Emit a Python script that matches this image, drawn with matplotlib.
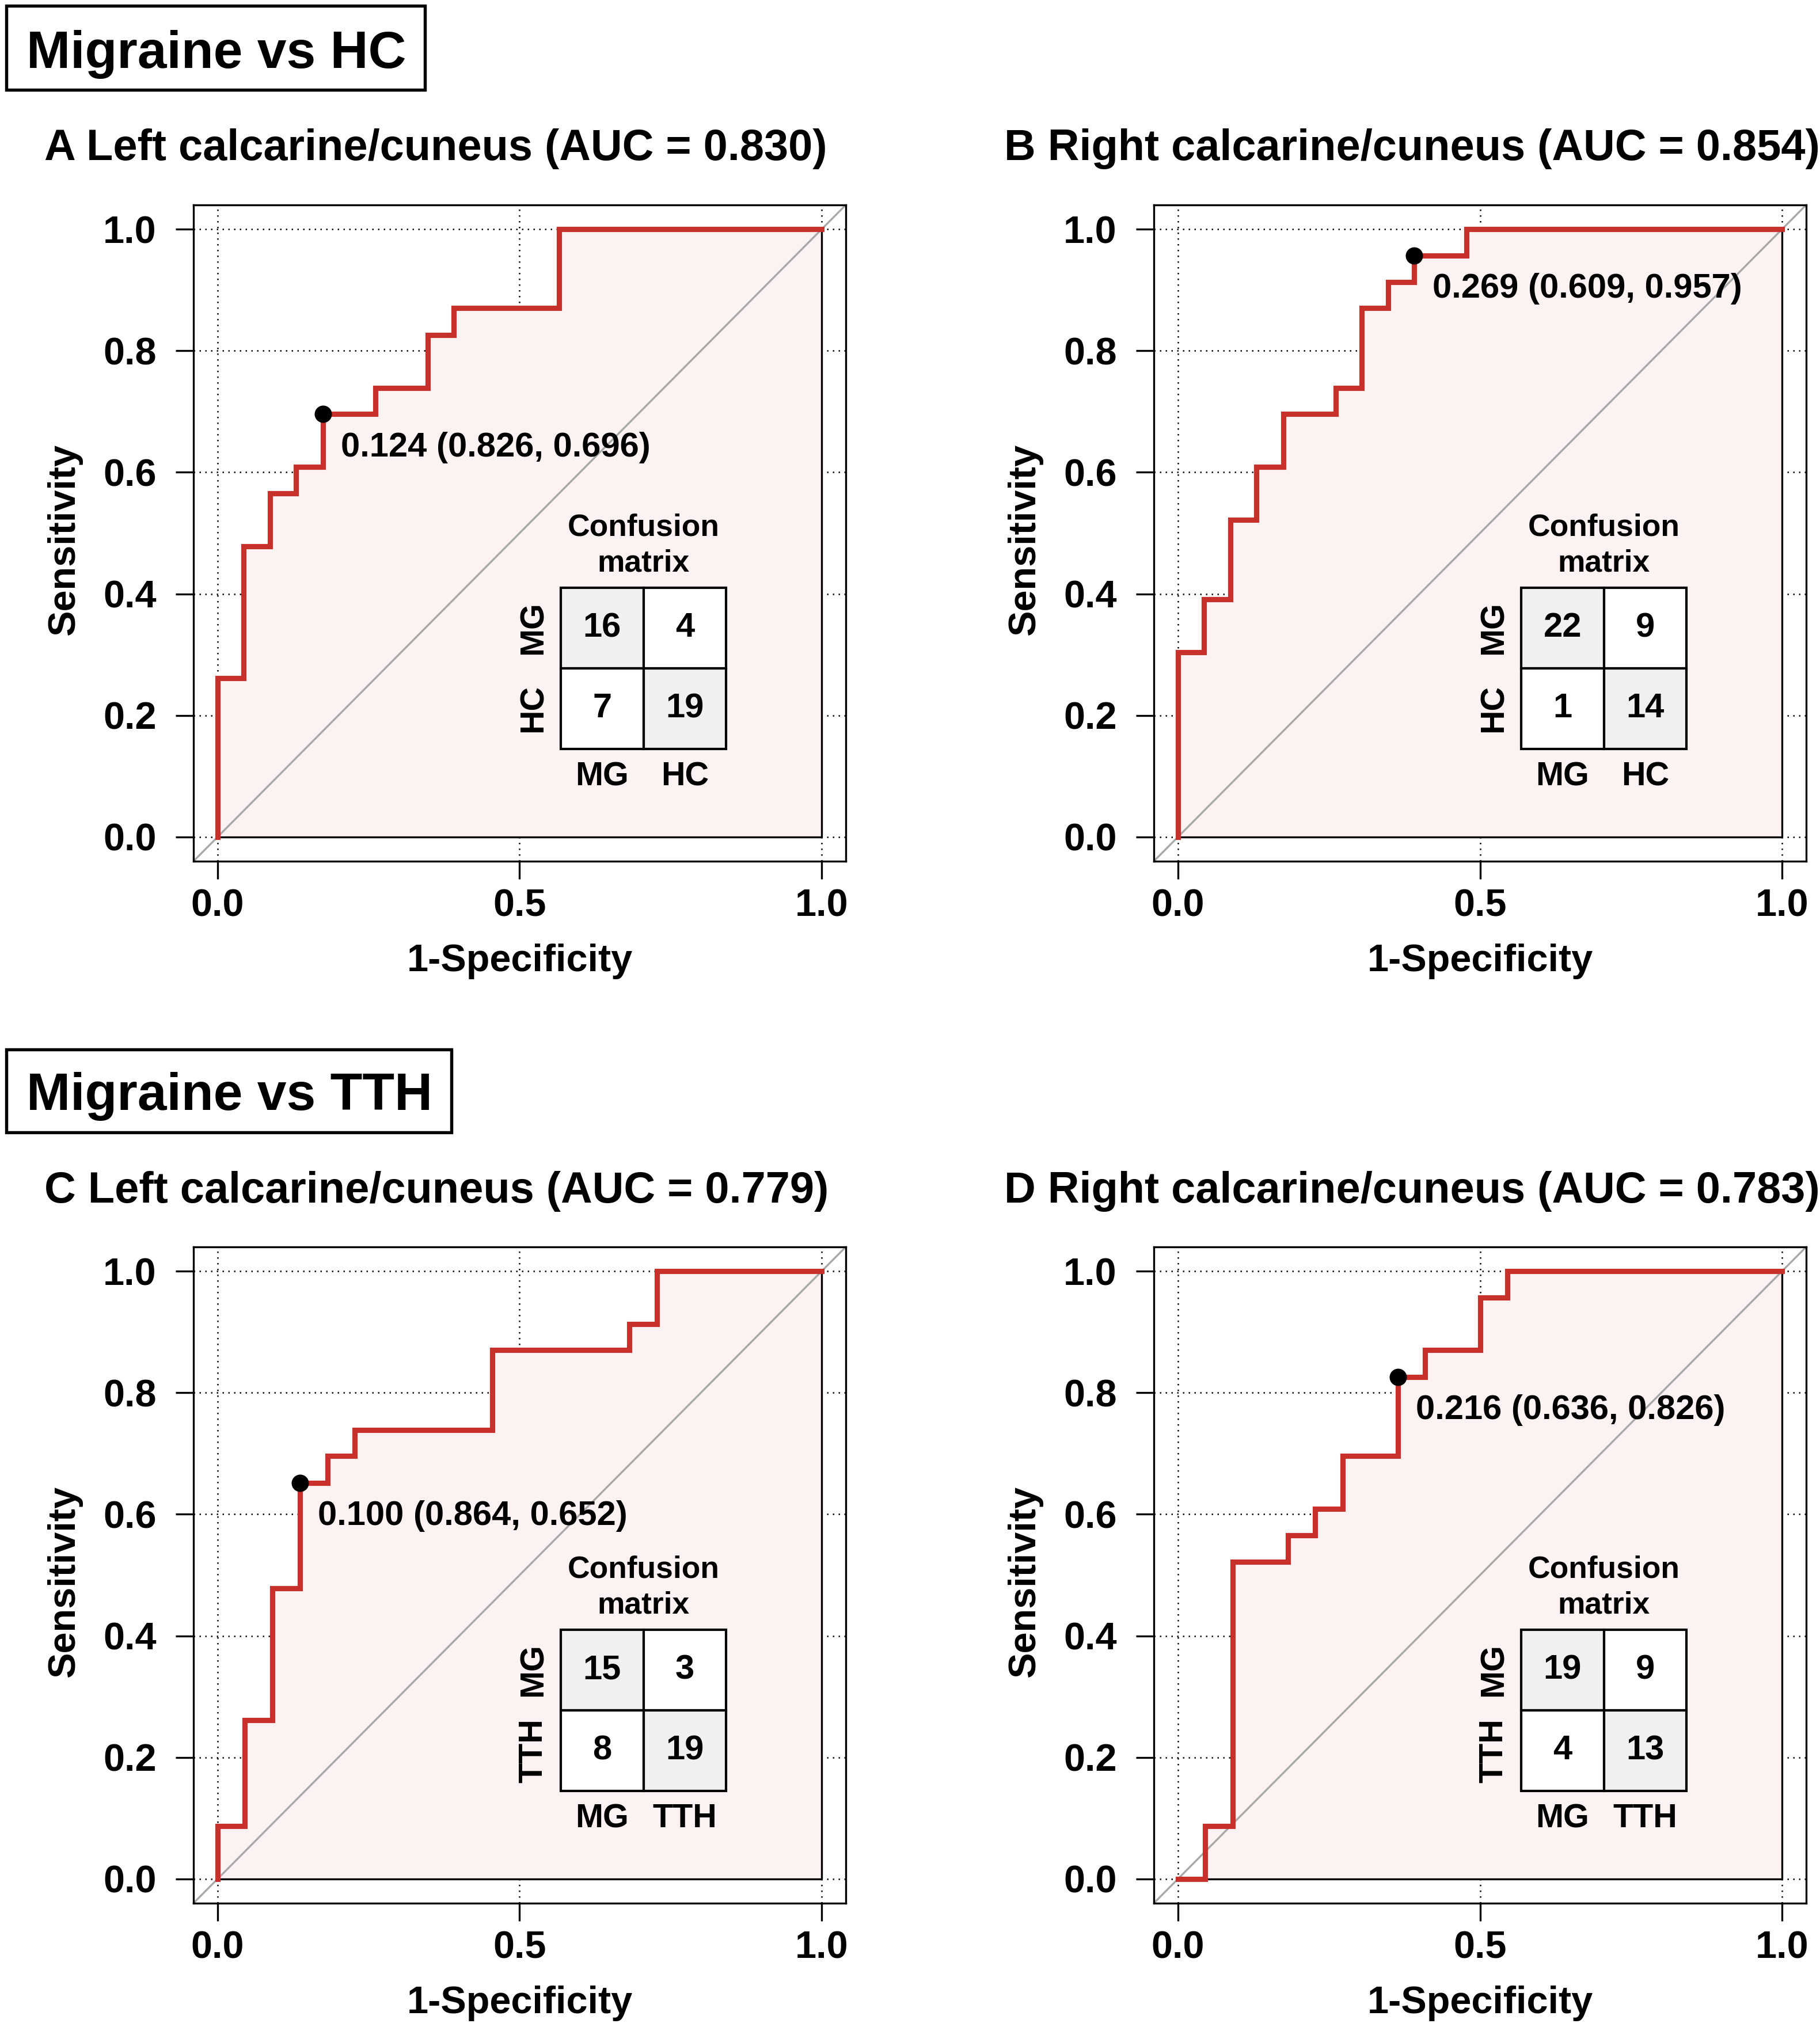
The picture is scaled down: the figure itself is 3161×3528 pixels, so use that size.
import matplotlib
matplotlib.use("Agg")
import matplotlib.pyplot as plt
from matplotlib.patches import Rectangle

plt.rcParams['font.family'] = ['Liberation Sans', 'DejaVu Sans']
plt.rcParams['font.weight'] = 'bold'

# ROC steps (1-specificity, sensitivity), drawn as steps-post
fpr_a = [0, 0, 0.043, 0.087, 0.130, 0.174, 0.261, 0.348, 0.391, 0.565, 1.0]
tpr_a = [0, 0.261, 0.478, 0.565, 0.609, 0.696, 0.739, 0.826, 0.870, 1.0, 1.0]

fpr_b = [0, 0, 0.043, 0.087, 0.130, 0.174, 0.261, 0.304, 0.348, 0.391, 0.478, 1.0]
tpr_b = [0, 0.304, 0.391, 0.522, 0.609, 0.696, 0.739, 0.870, 0.913, 0.957, 1.0, 1.0]

fpr_c = [0, 0, 0.045, 0.091, 0.136, 0.182, 0.227, 0.455, 0.682, 0.727, 1.0]
tpr_c = [0, 0.087, 0.261, 0.478, 0.652, 0.696, 0.739, 0.870, 0.913, 1.0, 1.0]

fpr_d = [0, 0.045, 0.091, 0.182, 0.227, 0.273, 0.364, 0.409, 0.500, 0.545, 1.0]
tpr_d = [0, 0.087, 0.522, 0.565, 0.609, 0.696, 0.826, 0.870, 0.957, 1.0, 1.0]

# best threshold, specificity, sensitivity
thresholds = [0.124, 0.269, 0.100, 0.216]
specs = [0.826, 0.609, 0.864, 0.636]
sens = [0.696, 0.957, 0.652, 0.826]

# confusion matrices [[pred MG row], [pred other row]]
cm_a = [[16, 4], [7, 19]]
cm_b = [[22, 9], [1, 14]]
cm_c = [[15, 3], [8, 19]]
cm_d = [[19, 9], [4, 13]]

letters = ['A', 'B', 'C', 'D']
regions = ['Left calcarine/cuneus', 'Right calcarine/cuneus',
           'Left calcarine/cuneus', 'Right calcarine/cuneus']
aucs = [0.830, 0.854, 0.779, 0.783]
others = ['HC', 'HC', 'TTH', 'TTH']
groups = ['Migraine vs HC', 'Migraine vs TTH']

W, H = 3162, 3528
fig = plt.figure(figsize=(W / 300, H / 300), dpi=300)


def fx(x):
    return x / W


def fy(y):
    return 1 - y / H


red = '#c8302c'
pink = '#fcf2f2'

# header boxes
boxes = [(11, 10, 738, 156, 118), (11, 1823, 784, 1967, 1928)]
for k, (x0, y0, x1, y1, base) in enumerate(boxes):
    fig.patches.append(Rectangle((fx(x0), fy(y1)), fx(x1 - x0), (y1 - y0) / H,
                                 transform=fig.transFigure, fill=False,
                                 edgecolor='black', lw=1.3))
    fig.text(fx(46), fy(base), groups[k], fontsize=21.9, fontweight='bold',
             ha='left', va='baseline')

rocs = [(fpr_a, tpr_a), (fpr_b, tpr_b), (fpr_c, tpr_c), (fpr_d, tpr_d)]
cms = [cm_a, cm_b, cm_c, cm_d]
ax_left = [336, 2004, 336, 2004]
ax_top = [356, 356, 2166, 2166]
title_x = [77, 1744, 77, 1744]
title_base = [278, 278, 2089, 2089]

for i in range(4):
    ax = fig.add_axes([fx(ax_left[i]), fy(ax_top[i] + 1140), 1133 / W, 1140 / H])
    ax.set_xlim(-0.04, 1.04)
    ax.set_ylim(-0.04, 1.04)
    ax.set_xticks([0, 0.5, 1.0])
    ax.set_xticklabels(['0.0', '0.5', '1.0'])
    ax.set_yticks([0, 0.2, 0.4, 0.6, 0.8, 1.0])
    ax.set_yticklabels(['0.0', '0.2', '0.4', '0.6', '0.8', '1.0'])
    ax.tick_params(axis='both', direction='out', length=7.4, width=0.8,
                   labelsize=16)
    ax.tick_params(axis='x', pad=4)
    ax.tick_params(axis='y', pad=8)
    for lab in ax.get_xticklabels() + ax.get_yticklabels():
        lab.set_fontweight('bold')
    for sp in ax.spines.values():
        sp.set_linewidth(0.8)
    ax.grid(True, color='black', linestyle=(0, (1, 3)), lw=0.6)
    ax.set_axisbelow(True)

    fpr, tpr = rocs[i]
    ax.fill_between(fpr, 0, tpr, step='post', facecolor=pink,
                    edgecolor='black', lw=0.8, zorder=1)
    ax.plot([-0.04, 1.04], [-0.04, 1.04], color='#a8a8a8', lw=0.8, zorder=2)
    ax.plot(fpr, tpr, drawstyle='steps-post', color=red, lw=2.2, zorder=3,
            solid_joinstyle='miter')

    px = 1 - specs[i]
    py = sens[i]
    ax.plot(px, py, 'o', color='black', ms=6.2, zorder=4)
    ax.text(px + 0.03, py - 0.055,
            f'{thresholds[i]:.3f} ({specs[i]:.3f}, {sens[i]:.3f})',
            fontsize=14.3, fontweight='bold', ha='left', va='center', zorder=5)

    # confusion matrix
    cm = cms[i]
    x0, y0, cw, ch = 0.568, 0.145, 0.137, 0.1325
    for r in range(2):
        for c in range(2):
            face = '#f0f0f0' if r == c else 'white'
            ax.add_patch(Rectangle((x0 + c * cw, y0 + (1 - r) * ch), cw, ch,
                                   facecolor=face, edgecolor='black', lw=1.0,
                                   zorder=5))
            ax.text(x0 + (c + 0.5) * cw, y0 + (1.5 - r) * ch, str(cm[r][c]),
                    fontsize=14.3, fontweight='bold', ha='center', va='center',
                    zorder=6)
    names = ['MG', others[i]]
    for r in range(2):
        ax.text(x0 - 0.045, y0 + (1.5 - r) * ch, names[r], rotation=90,
                fontsize=13.8, fontweight='bold', ha='center', va='center')
    for c in range(2):
        ax.text(x0 + (c + 0.5) * cw, y0 - 0.046, names[c], fontsize=13.8,
                fontweight='bold', ha='center', va='center')
    ax.text(x0 + cw, 0.509, 'Confusion', fontsize=12.8, fontweight='bold',
            ha='center', va='center')
    ax.text(x0 + cw, 0.450, 'matrix', fontsize=12.8, fontweight='bold',
            ha='center', va='center')

    ax.set_xlabel('1-Specificity', fontsize=16, fontweight='bold')
    ax.xaxis.set_label_coords(0.5, -0.153)
    ax.xaxis.label.set_va('center')
    ax.set_ylabel('Sensitivity', fontsize=16, fontweight='bold')
    ax.yaxis.set_label_coords(-0.198, 0.49)
    ax.yaxis.label.set_va('center')

    fig.text(fx(title_x[i]), fy(title_base[i]),
             f'{letters[i]} {regions[i]} (AUC = {aucs[i]:.3f})',
             fontsize=18.2, fontweight='bold', ha='left', va='baseline')

fig.savefig('out.png', dpi=300)
